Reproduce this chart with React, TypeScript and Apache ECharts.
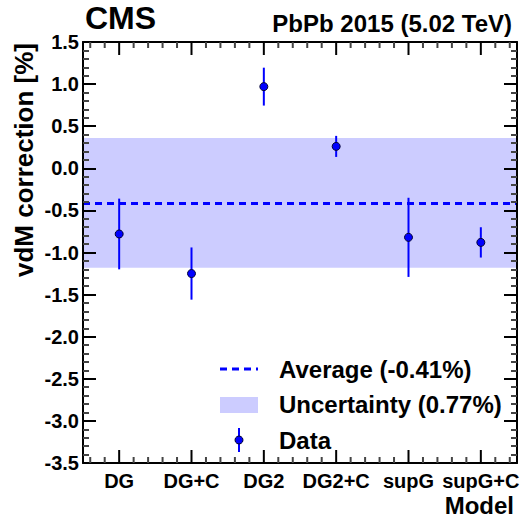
import React, { useEffect, useRef } from "react";
import * as echarts from "echarts";

const categories = ["DG", "DG+C", "DG2", "DG2+C", "supG", "supG+C"];
const values = [-0.78, -1.25, 0.97, 0.26, -0.82, -0.88];
const errors = [0.42, 0.31, 0.225, 0.125, 0.47, 0.18];
const average = -0.41;
const uncertainty = 0.77;
const legendLabels = ["Average (-0.41%)", "Uncertainty (0.77%)", "Data"];
const yRange = [-3.5, 1.5];
const xRange = [-0.5, 5.5];

const FONT = "Liberation Sans, Arial, Helvetica, sans-serif";
const BLUE = "#0000ff";
const BAND = "#ccccff";
const MAJOR = "#000000";
const MINOR = "#444444";

const W = 523;
const H = 522;
const G_LEFT = 83;
const G_RIGHT_X = 517;
const G_TOP = 42;
const G_BOTTOM_Y = 463;
const UNIT_X = (G_RIGHT_X - G_LEFT) / 6;

// x-axis tick positions (major at each category, 4 minor ticks between)
const xTicks: { v: number; major: boolean }[] = [];
for (let k = -2; k <= 27; k++) {
  const v = Math.round(k * 0.2 * 10) / 10;
  xTicks.push({ v, major: k % 5 === 0 });
}

export default function App() {
  const ref = useRef<HTMLDivElement>(null);

  useEffect(() => {
    if (!ref.current) return;
    const chart = echarts.init(ref.current, null, { renderer: "svg" });

    const frameLine = { show: true, onZero: false, lineStyle: { color: "#000", width: 2 } };
    const labelStyle = {
      color: "#000",
      fontFamily: FONT,
      fontWeight: 700,
      fontSize: 20,
    };

    const frameX = (pos: "top" | "bottom") => ({
      type: "value",
      gridIndex: 0,
      position: pos,
      min: xRange[0],
      max: xRange[1],
      z: 10,
      axisLine: frameLine,
      axisTick: { show: false },
      axisLabel: { show: false },
      splitLine: { show: false },
    });

    const labelX = {
      type: "value",
      gridIndex: 1,
      position: "bottom",
      min: 0,
      max: categories.length - 1,
      interval: 1,
      z: 10,
      axisLine: { show: false, onZero: false },
      axisTick: { show: false },
      axisLabel: {
        show: true,
        ...labelStyle,
        margin: 8,
        formatter: (v: number) => categories[Math.round(v)] ?? "",
      },
      splitLine: { show: false },
    };

    const yAx = (pos: "left" | "right", showLabel: boolean) => ({
      type: "value",
      gridIndex: 0,
      position: pos,
      min: yRange[0],
      max: yRange[1],
      interval: 0.5,
      z: 10,
      axisLine: frameLine,
      axisTick: { show: true, inside: true, length: 13, lineStyle: { color: MAJOR, width: 2 } },
      minorTick: { show: true, splitNumber: 5, length: 6, lineStyle: { color: MINOR, width: 2 } },
      axisLabel: {
        show: showLabel,
        ...labelStyle,
        margin: 4,
        formatter: (v: number) => v.toFixed(1),
      },
      splitLine: { show: false },
      minorSplitLine: { show: false },
    });

    const errData = values.map((v, i) => [i, v - errors[i], v + errors[i]]);
    const pointData = values.map((v, i) => [i, v]);
    const tickData = xTicks.map((t) => [t.v, t.major ? 13 : 6]);

    chart.setOption({
      animation: false,
      backgroundColor: "#fff",
      grid: [
        { left: G_LEFT, right: W - G_RIGHT_X, top: G_TOP, bottom: H - G_BOTTOM_Y },
        {
          left: G_LEFT + 0.5 * UNIT_X,
          right: W - G_RIGHT_X + 0.5 * UNIT_X,
          top: G_TOP,
          bottom: H - G_BOTTOM_Y,
        },
      ],
      xAxis: [frameX("bottom"), frameX("top"), labelX],
      yAxis: [
        yAx("left", true),
        yAx("right", false),
        { type: "value", gridIndex: 1, min: yRange[0], max: yRange[1], show: false },
      ],
      series: [
        {
          type: "line",
          xAxisIndex: 0,
          yAxisIndex: 0,
          data: [],
          z: 1,
          silent: true,
          markArea: {
            silent: true,
            itemStyle: { color: BAND, opacity: 1 },
            data: [[{ yAxis: average + uncertainty }, { yAxis: average - uncertainty }]],
          },
          markLine: {
            silent: true,
            symbol: ["none", "none"],
            label: { show: false },
            lineStyle: { color: BLUE, width: 3, type: [7, 5], opacity: 1 },
            data: [{ yAxis: average }],
          },
        },
        {
          type: "custom",
          xAxisIndex: 0,
          yAxisIndex: 0,
          z: 11,
          silent: true,
          clip: false,
          data: tickData,
          renderItem: (params: any, api: any) => {
            const x = api.value(0);
            const len = api.value(1);
            const b = api.coord([x, yRange[0]]);
            const t = api.coord([x, yRange[1]]);
            const color = len > 10 ? MAJOR : MINOR;
            return {
              type: "group",
              children: [
                {
                  type: "line",
                  shape: { x1: b[0], y1: b[1], x2: b[0], y2: b[1] - len },
                  style: { stroke: color, lineWidth: 2 },
                },
                {
                  type: "line",
                  shape: { x1: t[0], y1: t[1], x2: t[0], y2: t[1] + len },
                  style: { stroke: color, lineWidth: 2 },
                },
              ],
            };
          },
        },
        {
          type: "custom",
          xAxisIndex: 0,
          yAxisIndex: 0,
          z: 3,
          data: errData,
          renderItem: (params: any, api: any) => {
            const x = api.value(0);
            const p1 = api.coord([x, api.value(1)]);
            const p2 = api.coord([x, api.value(2)]);
            return {
              type: "line",
              shape: { x1: p1[0], y1: p1[1], x2: p2[0], y2: p2[1] },
              style: { stroke: BLUE, lineWidth: 2 },
            };
          },
        },
        {
          type: "scatter",
          xAxisIndex: 0,
          yAxisIndex: 0,
          z: 4,
          symbol: "circle",
          symbolSize: 8,
          itemStyle: { color: BLUE, borderColor: "#000033", borderWidth: 1, opacity: 1 },
          data: pointData,
        },
      ],
      graphic: [
        {
          type: "text",
          left: 85,
          top: 2,
          style: { text: "CMS", fill: "#000", font: `bold 32px ${FONT}` },
        },
        {
          type: "text",
          x: 512,
          y: 23,
          style: {
            text: "PbPb 2015 (5.02 TeV)",
            fill: "#000",
            font: `bold 24px ${FONT}`,
            textAlign: "right",
            textVerticalAlign: "middle",
          },
        },
        {
          type: "text",
          x: 24,
          y: 43,
          rotation: Math.PI / 2,
          style: {
            text: "vdM correction [%]",
            fill: "#000",
            font: `bold 26px ${FONT}`,
            textAlign: "right",
            textVerticalAlign: "middle",
          },
        },
        {
          type: "text",
          x: 514,
          y: 505,
          style: {
            text: "Model",
            fill: "#000",
            font: `bold 24px ${FONT}`,
            textAlign: "right",
            textVerticalAlign: "middle",
          },
        },
        {
          type: "line",
          shape: { x1: 220, y1: 369, x2: 258, y2: 369 },
          style: { stroke: BLUE, lineWidth: 3, lineDash: [7, 5] },
        },
        {
          type: "rect",
          shape: { x: 220, y: 397, width: 38, height: 16 },
          style: { fill: BAND },
        },
        {
          type: "line",
          shape: { x1: 239, y1: 428, x2: 239, y2: 452 },
          style: { stroke: BLUE, lineWidth: 2 },
        },
        {
          type: "circle",
          shape: { cx: 239, cy: 440, r: 4 },
          style: { fill: BLUE, stroke: "#000033", lineWidth: 1 },
        },
        ...legendLabels.map((t, i) => ({
          type: "text",
          x: 279,
          y: [369, 404, 440][i],
          style: {
            text: t,
            fill: "#000",
            font: `bold 24px ${FONT}`,
            textAlign: "left",
            textVerticalAlign: "middle",
          },
        })),
      ],
    });

    return () => chart.dispose();
  }, []);

  return (
    <div
      ref={ref}
      style={{ position: "fixed", left: 0, top: 0, width: W, height: H, background: "#fff" }}
    />
  );
}
